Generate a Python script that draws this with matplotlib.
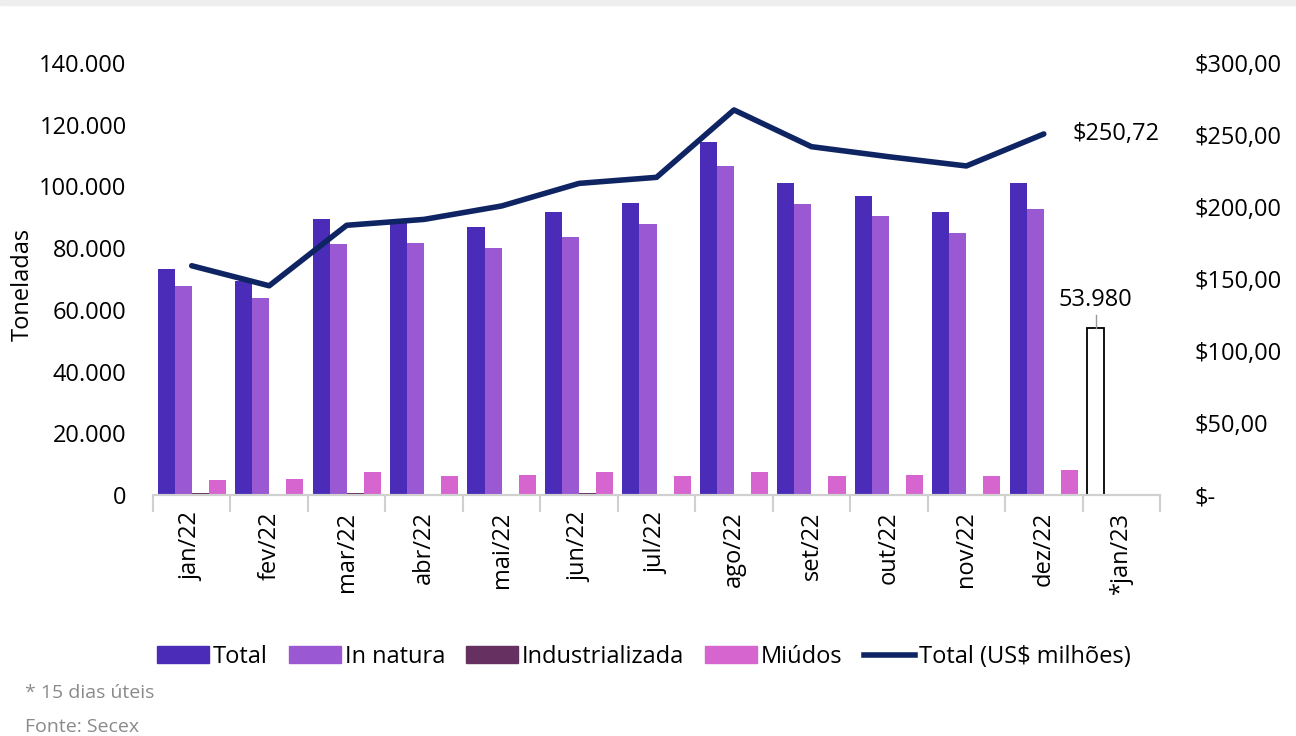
import numpy as np
import matplotlib.pyplot as plt
from matplotlib.patches import Patch
from matplotlib.lines import Line2D

# Data
months = ["jan/22", "fev/22", "mar/22", "abr/22", "mai/22", "jun/22", "jul/22",
          "ago/22", "set/22", "out/22", "nov/22", "dez/22", "*jan/23"]
total = [73400, 69500, 89500, 88600, 86800, 91600, 94700,
         114500, 101000, 96900, 91600, 101000]
in_natura = [67800, 64000, 81300, 81700, 79900, 83600, 87900,
             106500, 94300, 90300, 84900, 92700]
industrializada = [500, 200, 600, 200, 300, 500, 300, 300, 200, 300, 300, 200]
miudos = [4900, 5200, 7500, 6200, 6600, 7400, 6200, 7500, 6200, 6400, 6200, 8100]
total_jan23 = 53980
usd = [159.2, 145.3, 187.3, 191.4, 200.7, 216.4, 220.6,
       267.4, 241.9, 234.9, 228.5, 250.72]

c_total = "#4a2cb9"
c_nat = "#9b58d3"
c_ind = "#663060"
c_miu = "#d665d0"
c_line = "#0f2462"

plt.rcParams['font.family'] = ['Open Sans', 'DejaVu Sans']
fs = 17

fig = plt.figure(figsize=(12.96, 7.36), dpi=100)
ax = fig.add_axes([153/1296, 1 - 495/736, (1160-153)/1296, 432/736])
ax2 = ax.twinx()

x = np.arange(12)
w = 0.22
ax.bar(x - 0.33, total, w, color=c_total, zorder=2)
ax.bar(x - 0.11, in_natura, w, color=c_nat, zorder=2)
ax.bar(x + 0.11, industrializada, w, color=c_ind, zorder=2)
ax.bar(x + 0.33, miudos, w, color=c_miu, zorder=2)
ax.bar([12 - 0.33], [total_jan23], w * 0.98, facecolor="white",
       edgecolor="black", linewidth=1.3, zorder=2)

# label for partial month
ax.plot([12 - 0.33, 12 - 0.33], [total_jan23, total_jan23 + 4200],
        color="#999999", lw=1, zorder=3)
ax.text(12 - 0.33, total_jan23 + 5200, "53.980", ha="center", va="bottom",
        fontsize=fs)

ax2.plot(x, usd, color=c_line, lw=4, solid_capstyle="round", zorder=4)
ax2.annotate("$250,72", xy=(11, usd[-1]), xytext=(21, 0),
             textcoords="offset points", ha="left", va="center", fontsize=fs)

ax.set_xlim(-0.5, 12.5)
ax.set_ylim(0, 140000)
ax2.set_ylim(0, 300)

ax.set_yticks(np.arange(0, 140001, 20000))
ax.set_yticklabels([f"{v:,}".replace(",", ".") for v in range(0, 140001, 20000)])
ax2.set_yticks(np.arange(0, 301, 50))
ax2.set_yticklabels(["$-"] + [f"${v},00" for v in range(50, 301, 50)])

ax.set_xticks(np.arange(13))
ax.set_xticklabels(months, rotation=90)
ax.set_xticks(np.arange(-0.5, 13, 1), minor=True)
ax.tick_params(axis="x", which="major", length=0, labelsize=fs, pad=12)
ax.tick_params(axis="x", which="minor", length=12, color="#d0d0d0", width=1.5)
ax.tick_params(axis="y", length=0, labelsize=fs, pad=19)
ax2.tick_params(axis="y", length=0, labelsize=fs, pad=25)

for a in (ax, ax2):
    for s in ("top", "left", "right"):
        a.spines[s].set_visible(False)
    a.spines["bottom"].set_color("#d0d0d0")
    a.spines["bottom"].set_linewidth(1.5)

fig.text(23/1296, 1 - 284/736, "Toneladas", rotation=90, fontsize=fs,
         ha="center", va="center")

handles = [Patch(color=c_total), Patch(color=c_nat), Patch(color=c_ind),
           Patch(color=c_miu), Line2D([0], [0], color=c_line, lw=4)]
labels = ["Total", "In natura", "Industrializada", "Miúdos", "Total (US$ milhões)"]
fig.legend(handles, labels, loc="center", bbox_to_anchor=(0.497, 1 - 657/736),
           ncol=5, frameon=False, fontsize=fs, handlelength=2.2,
           handletextpad=0.15, columnspacing=0.9)

fig.text(25/1296, 1 - 693/736, "* 15 dias úteis", fontsize=14,
         color="#8a8a8a", va="center")
fig.text(25/1296, 1 - 727/736, "Fonte: Secex", fontsize=14,
         color="#8a8a8a", va="center")

# thin frame at top edge
fig.patches.append(plt.Rectangle((0, 1 - 5/736), 1, 5/736, transform=fig.transFigure,
                                 color="#eeeeee", zorder=0))

fig.savefig("out.png", dpi=100)
